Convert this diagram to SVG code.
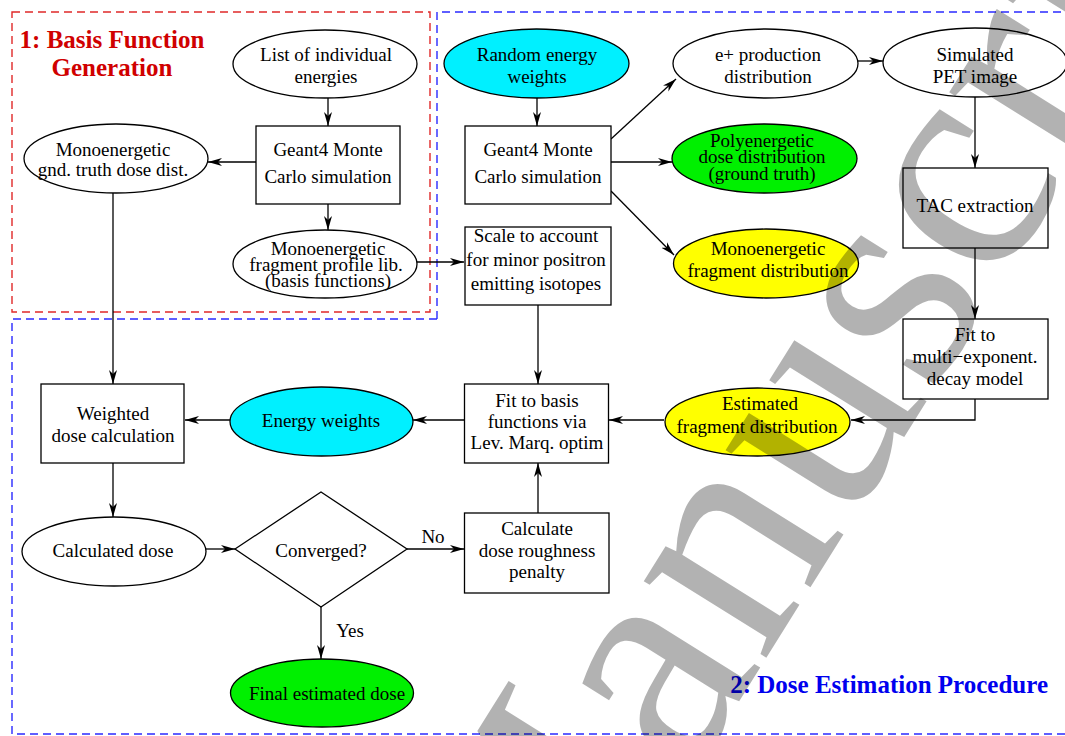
<svg xmlns="http://www.w3.org/2000/svg" width="1065" height="736" viewBox="0 0 1065 736">
<defs>
<marker id="ah" markerWidth="15" markerHeight="10" refX="14" refY="5" orient="auto" markerUnits="userSpaceOnUse">
<path d="M0,1 L14,5 L0,9 L4,5 Z" fill="#000"/>
</marker>
<style>
.t{font-family:"Liberation Serif","Times New Roman",serif;font-size:19px;fill:#000;text-anchor:middle}
.n{fill:#fff;stroke:#000;stroke-width:1.3}
.cy{fill:#00f0ff}
.gr{fill:#00f000}
.ye{fill:#ffff00}
.c{fill:none;stroke:#000;stroke-width:1.3;marker-end:url(#ah)}
.title{font-family:"Liberation Serif","Times New Roman",serif;font-size:25px;font-weight:bold}
</style>
</defs>
<rect width="1065" height="736" fill="#fff"/>
<g id="frames" fill="none" stroke-width="1.4" stroke-dasharray="8,5">
<rect x="12" y="12" width="418" height="300" stroke="#e02828"/>
<path d="M437,319 V12 H1066 M437,319 H12 V734 H1066" stroke="#2a2aff"/>
</g>
<g id="titles">
<text class="title" x="112" y="48" fill="#d00000" text-anchor="middle">1: Basis Function</text>
<text class="title" x="112" y="76" fill="#d00000" text-anchor="middle">Generation</text>
<text class="title" x="1048" y="693" fill="#0000ee" text-anchor="end">2: Dose Estimation Procedure</text>
</g>
<g id="connectors">
<path class="c" d="M328,98 V126"/>
<path class="c" d="M256,162 H208"/>
<path class="c" d="M328,204 V230"/>
<path class="c" d="M113,193 V384"/>
<path class="c" d="M417,262 H464"/>
<path class="c" d="M537,98 V126"/>
<path class="c" d="M611,139 L676,79"/>
<path class="c" d="M611,162 H672"/>
<path class="c" d="M611,191 L674,255"/>
<path class="c" d="M858,61 H883"/>
<path class="c" d="M975,97 V168"/>
<path class="c" d="M975,248 V319"/>
<path class="c" d="M975,399 V420 H851"/>
<path class="c" d="M538,305 V384"/>
<path class="c" d="M664,420 H609"/>
<path class="c" d="M464,420 H413"/>
<path class="c" d="M230,420 H185"/>
<path class="c" d="M113,463 V517"/>
<path class="c" d="M206,549 H235"/>
<path class="c" d="M407,549 H464"/>
<path class="c" d="M321,607 V659"/>
<path class="c" d="M538,513 V463"/>
<text class="t" x="433" y="543">No</text>
<text class="t" x="350" y="637">Yes</text>
</g>
<g id="list-energies"><ellipse class="n" cx="325" cy="64" rx="92" ry="34"/><text class="t" x="326" y="61">List of individual</text><text class="t" x="326" y="83">energies</text></g>
<g id="geant4-left"><rect class="n" x="256" y="126" width="144" height="78"/><text class="t" x="328" y="156">Geant4 Monte</text><text class="t" x="328" y="183">Carlo simulation</text></g>
<g id="mono-gnd"><ellipse class="n" cx="116" cy="158.5" rx="92" ry="34.5"/><text class="t" x="113" y="156">Monoenergetic</text><text class="t" x="113" y="176">gnd. truth dose dist.</text></g>
<g id="mono-lib"><ellipse class="n" cx="325" cy="264" rx="92" ry="34"/><text class="t" x="328" y="255">Monoenergetic</text><text class="t" x="326" y="271">fragment profile lib.</text><text class="t" x="328" y="287">(basis functions)</text></g>
<g id="random-weights"><ellipse class="n cy" cx="536.5" cy="63.5" rx="92.5" ry="34.5"/><text class="t" x="537" y="61">Random energy</text><text class="t" x="537" y="83">weights</text></g>
<g id="geant4-right"><rect class="n" x="465" y="126" width="146" height="78"/><text class="t" x="538" y="156">Geant4 Monte</text><text class="t" x="538" y="183">Carlo simulation</text></g>
<g id="eplus"><ellipse class="n" cx="765.5" cy="63.5" rx="92.5" ry="34.5"/><text class="t" x="768" y="61">e+ production</text><text class="t" x="768" y="83">distribution</text></g>
<g id="pet-image"><ellipse class="n" cx="975" cy="62.5" rx="92" ry="34.5"/><text class="t" x="975" y="61">Simulated</text><text class="t" x="975" y="83">PET image</text></g>
<g id="poly-dose"><ellipse class="n gr" cx="764.5" cy="158.5" rx="92.5" ry="34.5"/><text class="t" x="762" y="147">Polyenergetic</text><text class="t" x="762" y="163">dose distribution</text><text class="t" x="762" y="180">(ground truth)</text></g>
<g id="mono-frag"><ellipse class="n ye" cx="766" cy="263.5" rx="92.5" ry="34.5"/><text class="t" x="768" y="255">Monoenergetic</text><text class="t" x="768" y="277">fragment distribution</text></g>
<g id="scale"><rect class="n" x="465" y="227" width="146" height="78"/><text class="t" x="536" y="242">Scale to account</text><text class="t" x="536" y="266">for minor positron</text><text class="t" x="536" y="290">emitting isotopes</text></g>
<g id="tac"><rect class="n" x="903" y="168" width="145" height="80"/><text class="t" x="975" y="212">TAC extraction</text></g>
<g id="fit-decay"><rect class="n" x="903" y="319" width="145" height="80"/><text class="t" x="975" y="341">Fit to</text><text class="t" x="975" y="363">multi−exponent.</text><text class="t" x="975" y="385">decay model</text></g>
<g id="weighted"><rect class="n" x="41" y="384" width="143" height="79"/><text class="t" x="113" y="420">Weighted</text><text class="t" x="113" y="442">dose calculation</text></g>
<g id="energy-weights"><ellipse class="n cy" cx="321.5" cy="421.5" rx="91.5" ry="34.5"/><text class="t" x="321" y="427">Energy weights</text></g>
<g id="fit-basis"><rect class="n" x="464.5" y="384" width="144" height="79"/><text class="t" x="537" y="407">Fit to basis</text><text class="t" x="537" y="428">functions via</text><text class="t" x="537" y="449">Lev. Marq. optim</text></g>
<g id="estimated-frag"><ellipse class="n ye" cx="757.5" cy="422" rx="92.5" ry="34"/><text class="t" x="760" y="410">Estimated</text><text class="t" x="757" y="433">fragment distribution</text></g>
<g id="calc-dose"><ellipse class="n" cx="114" cy="551.5" rx="92" ry="34.5"/><text class="t" x="113" y="557">Calculated dose</text></g>
<g id="converged"><path class="n" d="M235,549 L321,492 L407,549 L321,607 Z"/><text class="t" x="321" y="557">Converged?</text></g>
<g id="roughness"><rect class="n" x="464.5" y="513" width="144.5" height="80"/><text class="t" x="537" y="535">Calculate</text><text class="t" x="537" y="557">dose roughness</text><text class="t" x="537" y="578">penalty</text></g>
<g id="final-dose"><ellipse class="n gr" cx="322" cy="693" rx="91.5" ry="34"/><text class="t" x="327" y="700">Final estimated dose</text></g>
<g id="watermark"><text x="540" y="1020" transform="rotate(-58 540 1020)" font-family="Liberation Serif, serif" font-size="315" fill="#000" fill-opacity="0.3">Manuscript</text></g>
</svg>
